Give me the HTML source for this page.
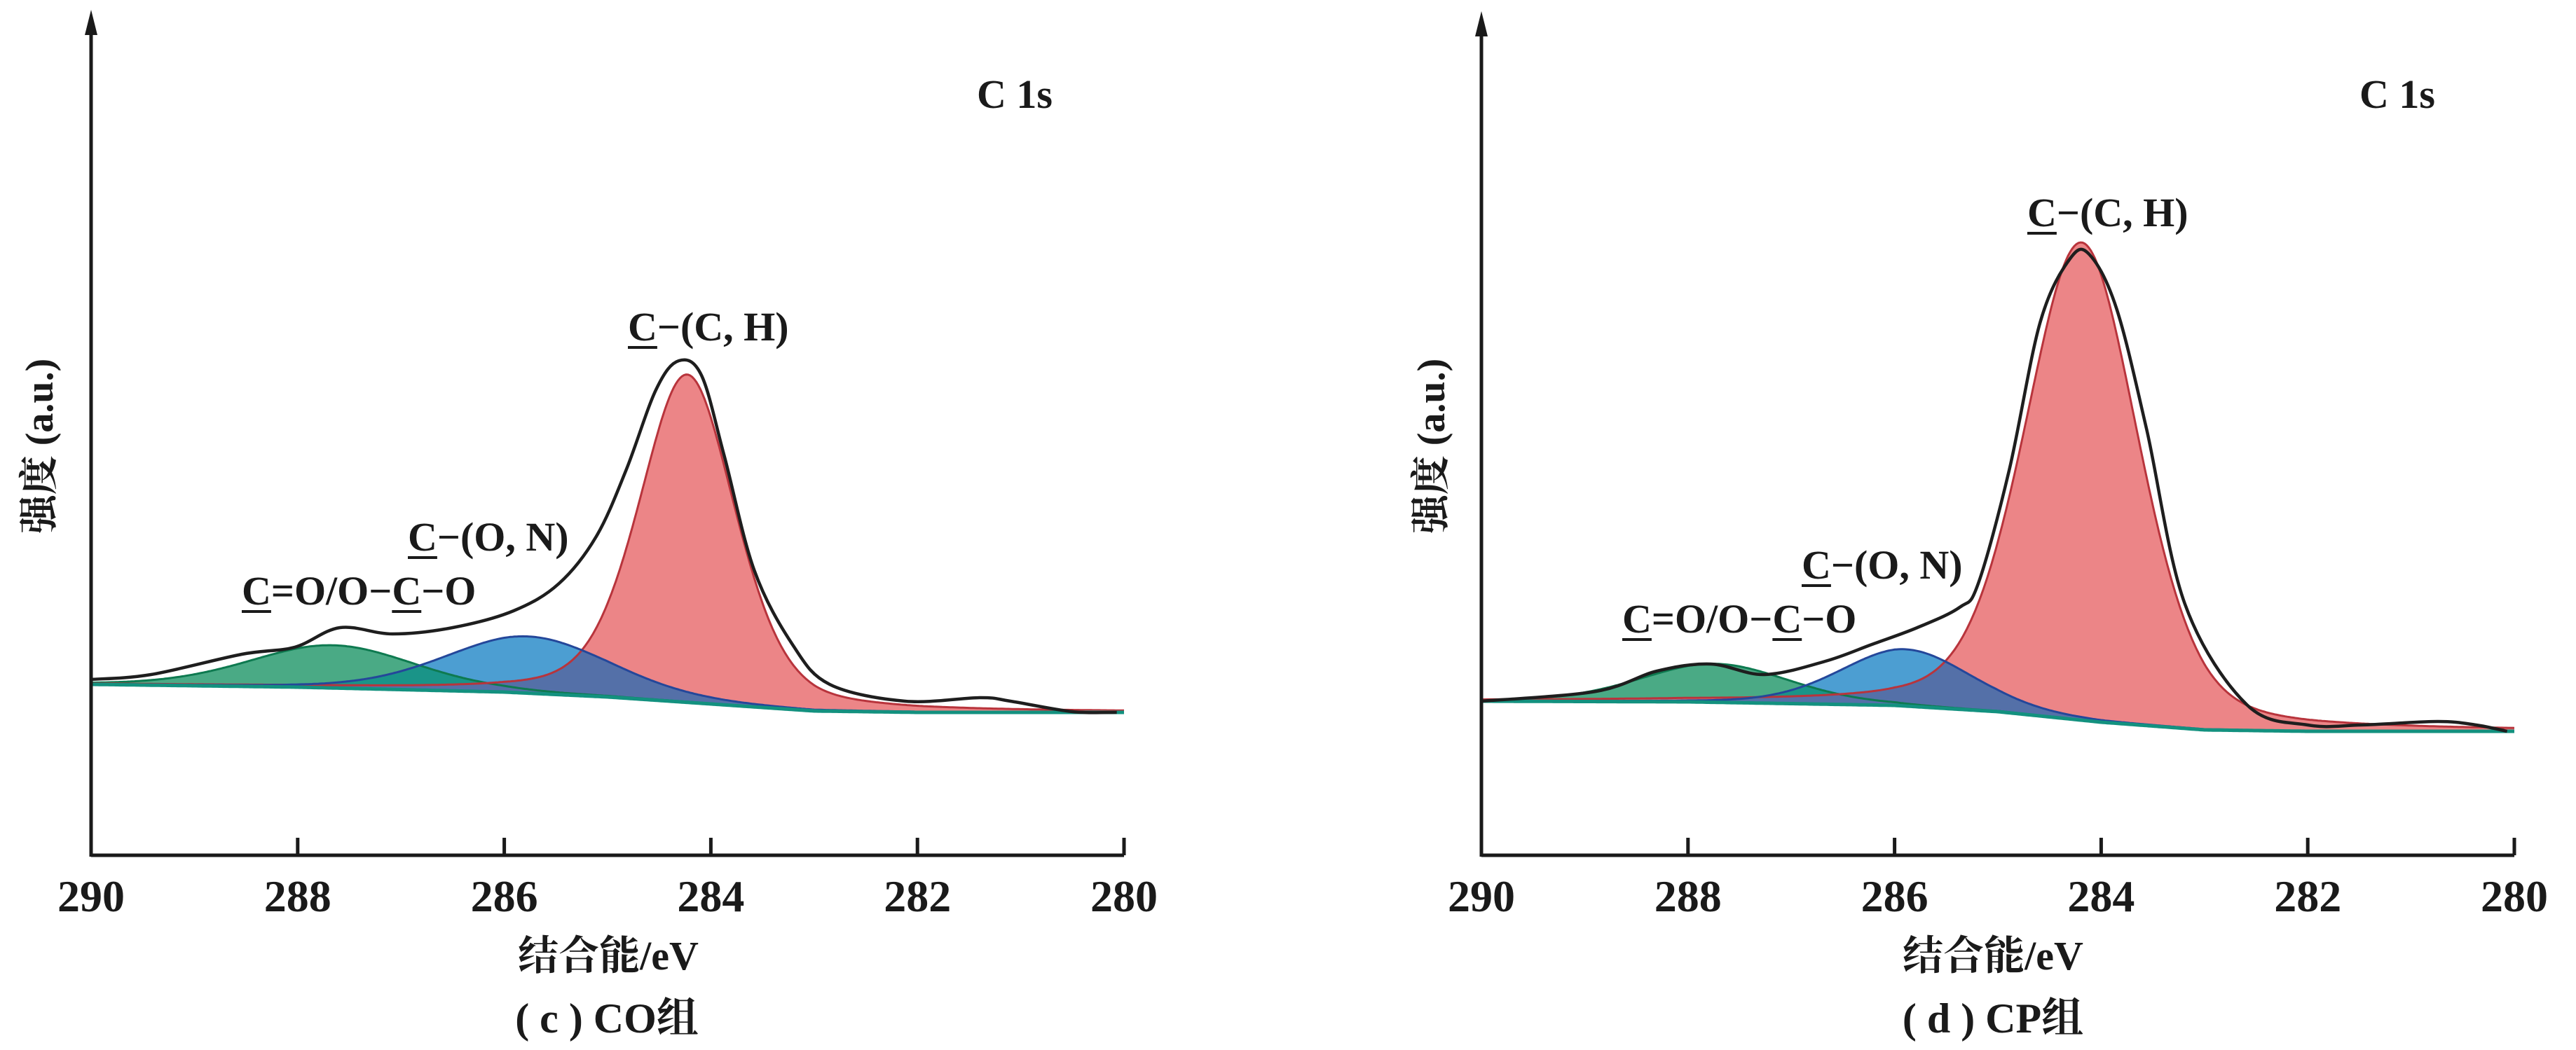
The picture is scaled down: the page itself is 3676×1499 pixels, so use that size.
<!DOCTYPE html>
<html><head><meta charset="utf-8">
<style>
html,body{margin:0;padding:0;background:#fff;}
#wrap{position:relative;width:3676px;height:1499px;overflow:hidden;background:#fff;}
svg{position:absolute;left:0;top:0;}
.t{position:absolute;font-family:"Liberation Serif","Noto Serif CJK SC",serif;font-weight:bold;color:#1a1a1a;white-space:nowrap;line-height:1;}
.u{text-decoration:underline;text-decoration-thickness:4px;text-underline-offset:8px;}
.cj{font-family:"Liberation Serif","Noto Serif CJK SC","Noto Sans CJK SC",serif;}
</style></head><body>
<div id="wrap">
<svg id="svg" width="3676" height="1499"></svg>

<div class="t" style="left:1394px;top:106px;font-size:58px;">C 1s</div>
<div class="t" style="left:896px;top:438px;font-size:58px;"><span class="u">C</span>−(C, H)</div>
<div class="t" style="left:582px;top:738px;font-size:58px;"><span class="u">C</span>−(O, N)</div>
<div class="t" style="left:345px;top:815px;font-size:58px;"><span class="u">C</span>=O/O−<span class="u">C</span>−O</div>
<div class="t cj" style="left:868px;top:1336px;font-size:58px;transform:translateX(-50%);">结合能/eV</div>
<div class="t cj" style="left:866px;top:1424px;font-size:60px;transform:translateX(-50%);">( c ) CO组</div>
<div class="t cj" style="left:57px;top:637px;font-size:56px;transform:translate(-50%,-50%) rotate(-90deg);">强度 (a.u.)</div>

<div class="t" style="left:3367px;top:106px;font-size:58px;">C 1s</div>
<div class="t" style="left:2893px;top:275px;font-size:58px;"><span class="u">C</span>−(C, H)</div>
<div class="t" style="left:2571px;top:778px;font-size:58px;"><span class="u">C</span>−(O, N)</div>
<div class="t" style="left:2315px;top:855px;font-size:58px;"><span class="u">C</span>=O/O−<span class="u">C</span>−O</div>
<div class="t cj" style="left:2844px;top:1336px;font-size:58px;transform:translateX(-50%);">结合能/eV</div>
<div class="t cj" style="left:2844px;top:1424px;font-size:60px;transform:translateX(-50%);">( d ) CP组</div>
<div class="t cj" style="left:2043px;top:637px;font-size:56px;transform:translate(-50%,-50%) rotate(-90deg);">强度 (a.u.)</div>
</div>
<script>
// ---- data (binding energy eV, intensity a.u.) ----
const tickLabels = [290, 288, 286, 284, 282, 280];
const peakNames = ["C=O/O-C-O", "C-(O,N)", "C-(C,H)"];
// panel c (CO)
const cCenters = [287.66, 285.77, 284.23];
const cAmps = [61, 81, 468];
const cFwhm = [1.9, 1.9, 1.1];
const cEta = [0.2, 0.2, 0.35];
const cBaseE = [290, 288, 286, 285, 284, 283, 282, 280];
const cBaseI = [244, 240, 233, 226, 216, 206, 204, 204];
const cEnvE = [290, 289.42, 288.54, 288.03, 287.59, 287.08, 286.5, 285.91, 285.47, 285.11, 284.82, 284.53, 284.31, 284.09, 283.87, 283.58, 283.21, 282.85, 282.12, 281.39, 281.1, 280.5, 280.07];
const cEnvI = [251, 258, 287, 297, 325, 316, 325, 349, 388, 455, 550, 665, 706, 685, 570, 407, 301, 244, 220, 225, 220, 205, 204];
// panel d (CP)
const dCenters = [287.74, 285.89, 284.19];
const dAmps = [55, 81, 682];
const dFwhm = [1.7, 1.5, 1.3];
const dEta = [0.2, 0.2, 0.3];
const dBaseE = [290, 288, 286, 285, 284, 283, 282, 280];
const dBaseI = [220, 219, 214, 205, 190, 179, 177, 177];
const dEnvE = [290, 288.89, 288.3, 287.78, 287.26, 286.67, 286.22, 285.78, 285.37, 285.19, 284.89, 284.59, 284.3, 284.11, 283.85, 283.56, 283.19, 282.59, 282, 281.48, 280.74, 280.37, 280.07];
const dEnvI = [220, 234, 263, 273, 258, 277, 301, 325, 354, 388, 550, 761, 852, 857, 780, 608, 359, 215, 186, 186, 191, 186, 177];

const NS = "http://www.w3.org/2000/svg";
const svg = document.getElementById('svg');
function mk(tag, attrs, parent){const e=document.createElementNS(NS,tag);for(const k in attrs)e.setAttribute(k,attrs[k]);(parent||svg).appendChild(e);return e;}
function interp(E, xs, ys){
  if(E>=xs[0])return ys[0];
  for(let i=1;i<xs.length;i++){ if(E>=xs[i]){const t=(xs[i-1]-E)/(xs[i-1]-xs[i]);return ys[i-1]+t*(ys[i]-ys[i-1]);} }
  return ys[ys.length-1];
}
function pv(E,c,a,w,eta){const x=(E-c)/(w/2);return a*((1-eta)*Math.exp(-Math.LN2*x*x)+eta/(1+x*x));}
function smoothPath(pts){
  let d='M'+pts[0][0].toFixed(1)+' '+pts[0][1].toFixed(1);
  for(let i=0;i<pts.length-1;i++){
    const p0=pts[Math.max(0,i-1)],p1=pts[i],p2=pts[i+1],p3=pts[Math.min(pts.length-1,i+2)];
    const c1=[p1[0]+(p2[0]-p0[0])/6,p1[1]+(p2[1]-p0[1])/6];
    const c2=[p2[0]-(p3[0]-p1[0])/6,p2[1]-(p3[1]-p1[1])/6];
    d+=`C${c1[0].toFixed(1)} ${c1[1].toFixed(1)} ${c2[0].toFixed(1)} ${c2[1].toFixed(1)} ${p2[0].toFixed(1)} ${p2[1].toFixed(1)}`;
  }
  return d;
}

function panel(id, x0, axisY, centers, amps, fwhm, eta, bE, bI, envE, envI, topY){
  const pxPerEV = 147.4;
  const X = E => x0 + (290 - E) * pxPerEV;
  const Y = I => axisY - I;
  const g = mk('g',{});
  
  
  const Es=[]; for(let E=290;E>=279.999;E-=0.02)Es.push(+E.toFixed(3));
  const base = E => interp(E,bE,bI);
  const comp = (k) => {
    let top='',bot='';
    Es.forEach((E,i)=>{top+=(i?'L':'M')+X(E).toFixed(1)+' '+Y(base(E)+pv(E,centers[k],amps[k],fwhm[k],eta[k])).toFixed(1);});
    for(let i=Es.length-1;i>=0;i--){bot+='L'+X(Es[i]).toFixed(1)+' '+Y(base(Es[i])).toFixed(1);}
    return {top, area: top+bot+'Z'};
  };
  const cg = comp(0), cb = comp(1), cr = comp(2);
  const defs = mk('defs',{},g);
  const cp1 = mk('clipPath',{id:'clipG'+id},defs); mk('path',{d:cg.area},cp1);
  const cp2 = mk('clipPath',{id:'clipR'+id},defs); mk('path',{d:cr.area},cp2);
  let p;
  p = mk('path',{d:cg.area,fill:'#4aaa85'},g);
  
  
  p = mk('path',{d:cr.area,fill:'#ec8587'},g);
  
  
  p = mk('path',{d:cb.area,fill:'#4c9ed2'},g);
  
  
  p = mk('path',{d:cb.area,fill:'#1a9488','clip-path':'url(#clipG'+id+')'},g);
  
  
  p = mk('path',{d:cb.area,fill:'#5470a8','clip-path':'url(#clipR'+id+')'},g);
  
  
  p = mk('path',{d:cg.top,fill:'none',stroke:'#0e7a50','stroke-width':3},g);
  
  
  p = mk('path',{d:cr.top,fill:'none',stroke:'#b8343c','stroke-width':3},g);
  
  
  p = mk('path',{d:cb.top,fill:'none',stroke:'#24479a','stroke-width':3},g);
  
  
  let bd=''; Es.forEach((E,i)=>{bd+=(i?'L':'M')+X(E).toFixed(1)+' '+Y(base(E)).toFixed(1);});
  p = mk('path',{d:bd,fill:'none',stroke:'#13917f','stroke-width':5},g);
  
  
  const ep = envE.map((E,i)=>[X(E),Y(envI[i])]);
  p = mk('path',{d:smoothPath(ep),fill:'none',stroke:'#1e1e1e','stroke-width':4.5,'stroke-linejoin':'round'},g);
  
  
  // axes
  p = mk('line',{x1:x0,y1:axisY,x2:X(280),y2:axisY,stroke:'#1a1a1a','stroke-width':5},g);
  
  
  p = mk('line',{x1:x0,y1:axisY+2,x2:x0,y2:topY+30,stroke:'#1a1a1a','stroke-width':5},g);
  
  
  p = mk('path',{d:`M${x0} ${topY} L${x0-9} ${topY+36} L${x0+9} ${topY+36} Z`,fill:'#1a1a1a'},g);
  
  
  tickLabels.forEach(v=>{
    const tx = X(v);
    const tk = mk('line',{x1:tx,y1:axisY,x2:tx,y2:axisY-25,stroke:'#1a1a1a','stroke-width':5},g);
    
    
    const tl = mk('text',{x:tx,y:axisY+80,'text-anchor':'middle','font-family':'Liberation Serif, serif','font-weight':'bold','font-size':64,fill:'#1a1a1a'},g);
    tl.textContent = v;
    
    
  });
}
panel('c', 130, 1221, cCenters, cAmps, cFwhm, cEta, cBaseE, cBaseI, cEnvE, cEnvI, 14);
panel('d', 2114, 1221, dCenters, dAmps, dFwhm, dEta, dBaseE, dBaseI, dEnvE, dEnvI, 16);
</script>
</body></html>
